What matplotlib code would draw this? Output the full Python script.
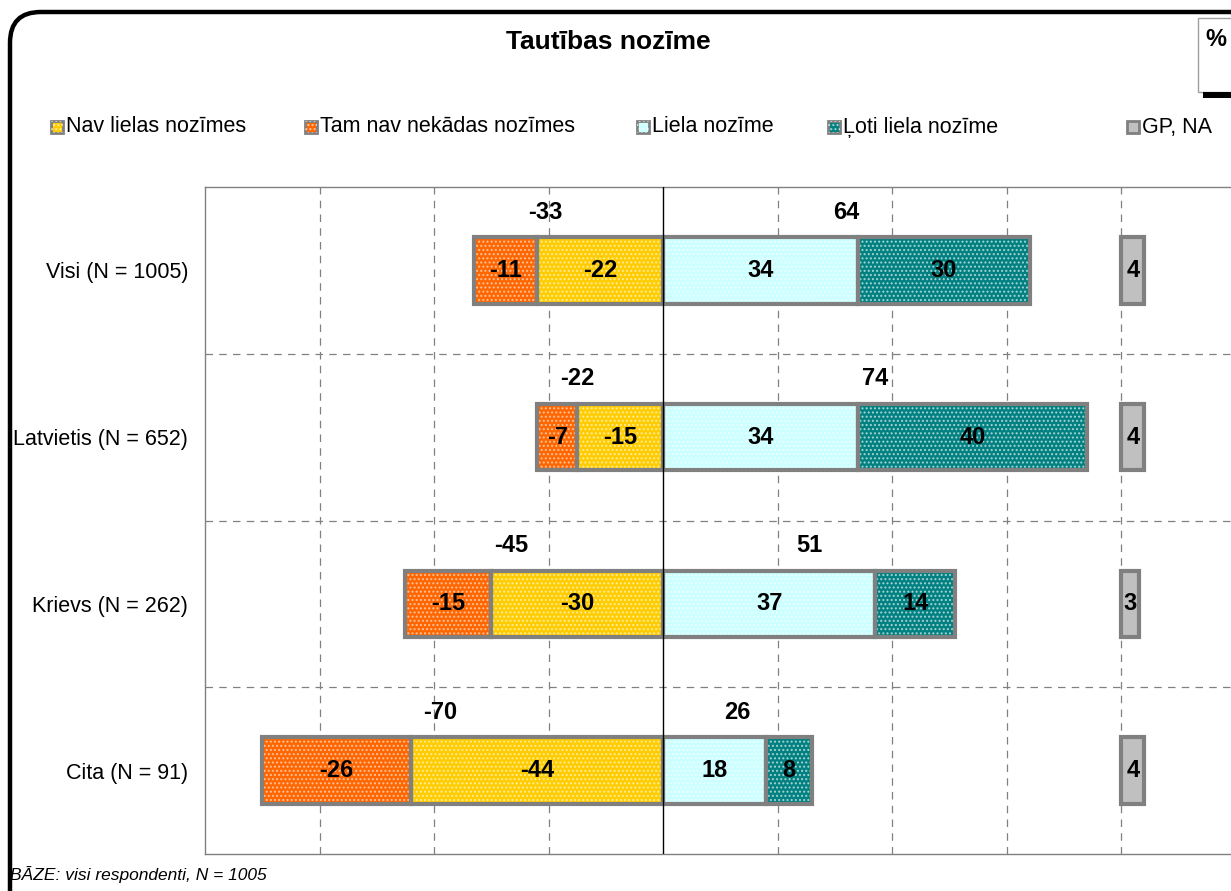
import matplotlib
matplotlib.use("Agg")
import matplotlib.pyplot as plt
from matplotlib.patches import Rectangle, FancyBboxPatch
import numpy as np

plt.rcParams['font.family'] = ['Liberation Sans', 'DejaVu Sans']
plt.rcParams['hatch.linewidth'] = 1.0

title = "Tautības nozīme"
categories = ["Visi (N = 1005)", "Latvietis (N = 652)", "Krievs (N = 262)", "Cita (N = 91)"]
nav_lielas = [-22, -15, -30, -44]          # Nav lielas nozīmes
tam_nav = [-11, -7, -15, -26]              # Tam nav nekādas nozīmes
liela = [34, 34, 37, 18]                   # Liela nozīme
loti_liela = [30, 40, 14, 8]               # Ļoti liela nozīme
gp_na = [4, 4, 3, 4]                       # GP, NA
neg_totals = [-33, -22, -45, -70]
pos_totals = [64, 74, 51, 26]
legend_labels = ["Nav lielas nozīmes", "Tam nav nekādas nozīmes", "Liela nozīme",
                 "Ļoti liela nozīme", "GP, NA"]
footnote = "BĀZE: visi respondenti, N = 1005"

C_NAV = "#FFCC00"
C_TAM = "#FF6600"
C_LIELA = "#CCFFFF"
C_LOTI = "#008080"
C_GP = "#C0C0C0"
EDGE = "#808080"

W, H = 1231, 891
fig = plt.figure(figsize=(W / 100, H / 100), dpi=100)
fig.patch.set_facecolor("white")

ax = fig.add_axes([205 / W, (H - 854) / H, (1236 - 205) / W, (854 - 187) / H])
ax.set_xlim(-80, 100)
ax.set_ylim(3.5, -0.5)

y = np.arange(len(categories))
bh = 0.4
GP_OFFSET = 80


def hbar(left, width, color, hatch_alpha=0.55):
    ax.barh(y, width, left=left, height=bh, color=color, edgecolor="none", zorder=3)
    ax.barh(y, width, left=left, height=bh, fill=False, edgecolor=(1, 1, 1, hatch_alpha),
            hatch="....", linewidth=0, zorder=4)
    ax.barh(y, width, left=left, height=bh, fill=False, edgecolor=EDGE, linewidth=3, zorder=5)


nav = np.array(nav_lielas)
tam = np.array(tam_nav)
lie = np.array(liela)
lot = np.array(loti_liela)
gp = np.array(gp_na)

hbar(np.zeros(4), nav, C_NAV)
hbar(nav, tam, C_TAM)
hbar(np.zeros(4), lie, C_LIELA)
hbar(lie, lot, C_LOTI, hatch_alpha=0.6)
ax.barh(y, gp, left=GP_OFFSET, height=bh, color=C_GP, edgecolor=EDGE, linewidth=3, zorder=5)

lab_kw = dict(ha="center", va="center", fontsize=17, fontweight="bold", color="black", zorder=6)
for i in range(len(categories)):
    ax.text(nav[i] / 2, y[i], f"{nav[i]}", **lab_kw)
    ax.text(nav[i] + tam[i] / 2, y[i], f"{tam[i]}", **lab_kw)
    ax.text(lie[i] / 2, y[i], f"{lie[i]}", **lab_kw)
    ax.text(lie[i] + lot[i] / 2, y[i], f"{lot[i]}", **lab_kw)
    ax.text(GP_OFFSET + gp[i] / 2, y[i], f"{gp[i]}", **lab_kw)
    ax.text(neg_totals[i] / 2 - 4, y[i] - 0.35, f"{neg_totals[i]}", **lab_kw)
    ax.text(pos_totals[i] / 2, y[i] - 0.35, f"{pos_totals[i]}", **lab_kw)

# grid
for gx in [-60, -40, -20, 20, 40, 60, 80]:
    ax.axvline(gx, color=EDGE, lw=0.9, ls=(0, (6, 5)), zorder=1)
for gy in [0.5, 1.5, 2.5]:
    ax.axhline(gy, color=EDGE, lw=0.9, ls=(0, (6, 5)), zorder=1)
ax.axvline(0, color="black", lw=1.0, zorder=7)

for s in ["top", "bottom", "left"]:
    ax.spines[s].set_color(EDGE)
    ax.spines[s].set_linewidth(1.0)
ax.spines["right"].set_visible(False)
ax.set_xticks([])
ax.set_yticks(y)
ax.set_yticklabels(categories, fontsize=15.5)
ax.tick_params(axis="y", length=0, pad=12)

# title
fig.text(608 / W, 1 - 42 / H, title, ha="center", va="center", fontsize=19, fontweight="bold")

# legend (manual)
leg_items = [(51, legend_labels[0], C_NAV), (305, legend_labels[1], C_TAM),
             (637, legend_labels[2], C_LIELA), (828, legend_labels[3], C_LOTI),
             (1127, legend_labels[4], C_GP)]
ly = 127
for lx, lab, col in leg_items:
    r = Rectangle((lx / W, 1 - (ly + 6) / H), 12 / W, 12 / H, transform=fig.transFigure,
                  facecolor=col, edgecolor=EDGE, linewidth=2)
    fig.add_artist(r)
    if col != C_GP:
        r2 = Rectangle((lx / W, 1 - (ly + 6) / H), 12 / W, 12 / H, transform=fig.transFigure,
                       fill=False, edgecolor=(1, 1, 1, 0.6), hatch="....", linewidth=0)
        fig.add_artist(r2)
    fig.text((lx + 15) / W, 1 - ly / H, lab, ha="left", va="center", fontsize=15.5)

# footnote
fig.text(10 / W, 1 - 875 / H, footnote, ha="left", va="center", fontsize=12.5, style="italic")

# outer rounded frame
frame = FancyBboxPatch((10 / W, -0.2), 1.2, 1.2 - 12 / H,
                       boxstyle="round,pad=0,rounding_size=0.025",
                       transform=fig.transFigure, fill=False, edgecolor="black",
                       linewidth=3.2, mutation_aspect=W / H)
fig.add_artist(frame)

# % box
pbox = Rectangle((1198 / W, 1 - 92 / H), 60 / W, 74 / H, transform=fig.transFigure,
                 facecolor="white", edgecolor="#A0A0A0", linewidth=1.0)
fig.add_artist(pbox)
shadow = Rectangle((1203 / W, 1 - 98 / H), 60 / W, 6 / H, transform=fig.transFigure,
                   facecolor="black", edgecolor="none")
fig.add_artist(shadow)
fig.text(1216 / W, 1 - 40 / H, "%", ha="center", va="center", fontsize=17, fontweight="bold")

fig.savefig("out.png", dpi=100)
